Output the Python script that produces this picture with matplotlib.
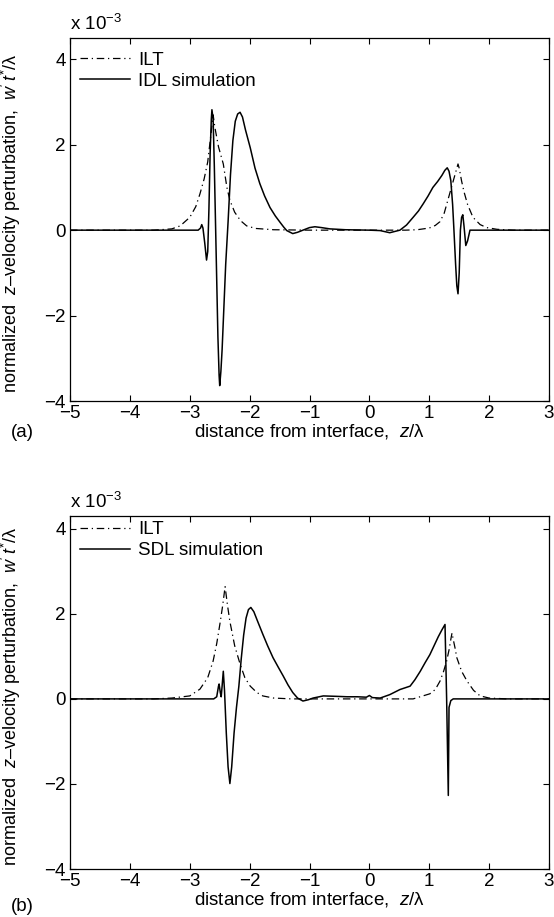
import matplotlib
matplotlib.use("Agg")
import matplotlib.pyplot as plt

plt.rcParams['font.family'] = ['Liberation Sans', 'DejaVu Sans']
plt.rcParams['mathtext.fontset'] = 'custom'
plt.rcParams['mathtext.rm'] = 'Liberation Sans'
plt.rcParams['mathtext.it'] = 'Liberation Sans:italic'
plt.rcParams['font.size'] = 13.5

# ---- panel (a) data, values in units of 1e-3 ----
ilt_a_z = [-5, -3.6, -3.3, -3.16, -3.0, -2.9, -2.83, -2.76, -2.70, -2.65, -2.61,
           -2.58, -2.52, -2.44, -2.38, -2.33, -2.25, -2.15, -2.05, -1.9, -1.6,
           -1.0, 0.0, 0.6, 0.8, 1.0, 1.1, 1.18, 1.25, 1.30, 1.36, 1.42, 1.46, 1.48,
           1.50, 1.54, 1.58, 1.64, 1.73, 1.85, 1.96, 2.13, 2.4, 3]
ilt_a_v = [0, 0.0, 0.03, 0.1, 0.3, 0.55, 0.85, 1.2, 1.6, 2.2, 2.7,
           2.4, 1.95, 1.55, 1.0, 0.7, 0.42, 0.22, 0.1, 0.04, 0.01,
           0.0, 0.0, 0.0, 0.01, 0.05, 0.11, 0.2, 0.4, 0.65, 0.95, 1.25, 1.45, 1.55,
           1.45, 1.15, 0.9, 0.6, 0.3, 0.13, 0.06, 0.02, 0.0, 0]

idl_z = [-5, -3.0, -2.86, -2.82, -2.80, -2.78, -2.75, -2.72, -2.70, -2.68, -2.66,
         -2.64, -2.63, -2.61, -2.59, -2.56, -2.53, -2.51, -2.50, -2.48, -2.46,
         -2.43, -2.40, -2.36, -2.32, -2.28, -2.24, -2.20, -2.16, -2.12, -2.07,
         -1.99, -1.91, -1.83, -1.75, -1.66, -1.57, -1.49, -1.43, -1.38, -1.28,
         -1.2, -1.11, -1.0, -0.91, -0.8, -0.66, -0.4, 0.0, 0.18, 0.34, 0.51,
         0.62, 0.73, 0.82, 0.90, 0.98, 1.06, 1.14, 1.21, 1.26, 1.30, 1.33, 1.36,
         1.39, 1.41, 1.44, 1.46, 1.48, 1.50, 1.52, 1.54, 1.56, 1.58, 1.61, 1.64,
         1.68, 3]
idl_v = [0, 0, 0, 0.05, 0.13, 0.05, -0.3, -0.7, -0.5, 0.5, 1.8,
         2.6, 2.82, 2.6, 1.5, -0.5, -2.5, -3.4, -3.64, -3.3, -2.8,
         -1.8, -0.8, 0.2, 1.3, 2.1, 2.55, 2.72, 2.76, 2.65, 2.35,
         1.93, 1.45, 1.09, 0.8, 0.53, 0.33, 0.18, 0.07, -0.01, -0.08,
         -0.05, 0.0, 0.06, 0.08, 0.06, 0.03, 0.01, 0.0, -0.01, -0.06, 0.0,
         0.12, 0.3, 0.45, 0.62, 0.8, 1.0, 1.14, 1.28, 1.4, 1.46, 1.38, 1.16,
         0.6, 0.06, -0.8, -1.3, -1.49, -1.0, 0.0, 0.3, 0.36, 0.1, -0.36, -0.25,
         0.0, 0]

# ---- panel (b) data ----
ilt_b_z = [-5, -3.6, -3.3, -3.0, -2.83, -2.7, -2.61, -2.55, -2.49, -2.45, -2.41,
           -2.37, -2.33, -2.25, -2.16, -2.08, -1.99, -1.88, -1.78, -1.6, -1.3,
           0.0, 0.73, 1.01, 1.10, 1.18, 1.24, 1.29, 1.33, 1.36, 1.38, 1.40, 1.43,
           1.46, 1.54, 1.63, 1.74, 1.85, 2.0, 2.3, 3]
ilt_b_v = [0, 0.0, 0.02, 0.07, 0.23, 0.5, 0.89, 1.3, 1.82, 2.2, 2.64,
           2.2, 1.82, 1.25, 0.82, 0.5, 0.3, 0.15, 0.07, 0.02, 0.0,
           0.0, 0.0, 0.12, 0.22, 0.42, 0.65, 0.89, 1.15, 1.4, 1.55, 1.4, 1.2,
           0.97, 0.65, 0.42, 0.2, 0.07, 0.02, 0.0, 0]

sdl_z = [-5, -2.60, -2.55, -2.52, -2.51, -2.49, -2.475, -2.46, -2.44, -2.42,
         -2.39, -2.36, -2.33, -2.30, -2.26, -2.22, -2.18, -2.14, -2.10, -2.06,
         -2.02, -1.98, -1.93, -1.86, -1.78, -1.70, -1.61, -1.52, -1.44, -1.36,
         -1.28, -1.2, -1.11, -1.02, -0.94, -0.77, -0.55, -0.37, -0.2, -0.05,
         0.0, 0.05, 0.18, 0.34, 0.51, 0.68, 0.76, 0.85, 0.93, 1.01, 1.08, 1.15,
         1.21, 1.263, 1.29, 1.318, 1.33, 1.36, 1.40, 3]
sdl_v = [0, 0, 0.05, 0.3, 0.35, 0.15, 0.05, 0.3, 0.65, 0.2,
         -0.8, -1.6, -1.99, -1.6, -0.8, -0.2, 0.3, 0.95, 1.5, 1.9,
         2.1, 2.15, 2.05, 1.8, 1.52, 1.25, 0.97, 0.74, 0.54, 0.33,
         0.15, 0.02, -0.05, -0.02, 0.02, 0.07, 0.06, 0.05, 0.05, 0.04,
         0.08, 0.03, 0.02, 0.1, 0.22, 0.3, 0.45, 0.65, 0.85, 1.04, 1.25, 1.46,
         1.62, 1.75, 0.0, -2.27, -0.2, -0.04, 0, 0]

xticks = [-5, -4, -3, -2, -1, 0, 1, 2, 3]
yticks = [-4, -2, 0, 2, 4]

ylab = r"normalized  $z$–velocity perturbation,  $w'\,t^{*}/$λ"
xlab = r"distance from interface,  $z$/λ"
dashdot = (0, (6, 3, 1, 3))

fig = plt.figure(figsize=(5.54, 9.17), dpi=100)
ax_a = fig.add_axes([0.1264, 0.5627, 0.8646, 0.3959])
ax_b = fig.add_axes([0.1264, 0.0523, 0.8646, 0.3850])


def panel(ax, z1, v1, z2, v2, simlabel, ytop, legy):
    ax.plot(z1, v1, color='black', lw=0.9, linestyle=dashdot, label='ILT')
    ax.plot(z2, v2, color='black', lw=1.1, label=simlabel)
    ax.set_xlim(-5, 3)
    ax.set_ylim(-4, ytop)
    ax.set_xticks(xticks)
    ax.set_yticks(yticks)
    ax.tick_params(direction='in', top=True, right=True, length=4, width=0.8,
                   labelsize=13.5, pad=3)
    for s in ax.spines.values():
        s.set_linewidth(0.9)
    ax.set_xlabel(xlab, fontsize=13.5, labelpad=0)
    ax.set_ylabel(ylab, fontsize=13)
    ax.yaxis.set_label_coords(-0.098, 0.49)
    ax.text(0, 1.01, r"x 10$^{-3}$", transform=ax.transAxes, va='bottom',
            ha='left', fontsize=13.5)
    ax.legend(loc='upper left', bbox_to_anchor=(0.021, legy), frameon=False,
              handlelength=2.65, handletextpad=0.45, labelspacing=0.2,
              borderpad=0.0, borderaxespad=0.0, fontsize=13.5)


panel(ax_a, ilt_a_z, ilt_a_v, idl_z, idl_v, 'IDL simulation', 4.5, 0.962)
panel(ax_b, ilt_b_z, ilt_b_v, sdl_z, sdl_v, 'SDL simulation', 4.3, 0.985)

fig.text(0.02, 0.528, '(a)', fontsize=13.5, va='center')
fig.text(0.02, 0.011, '(b)', fontsize=13.5, va='center')

fig.savefig('out.png', dpi=100)
